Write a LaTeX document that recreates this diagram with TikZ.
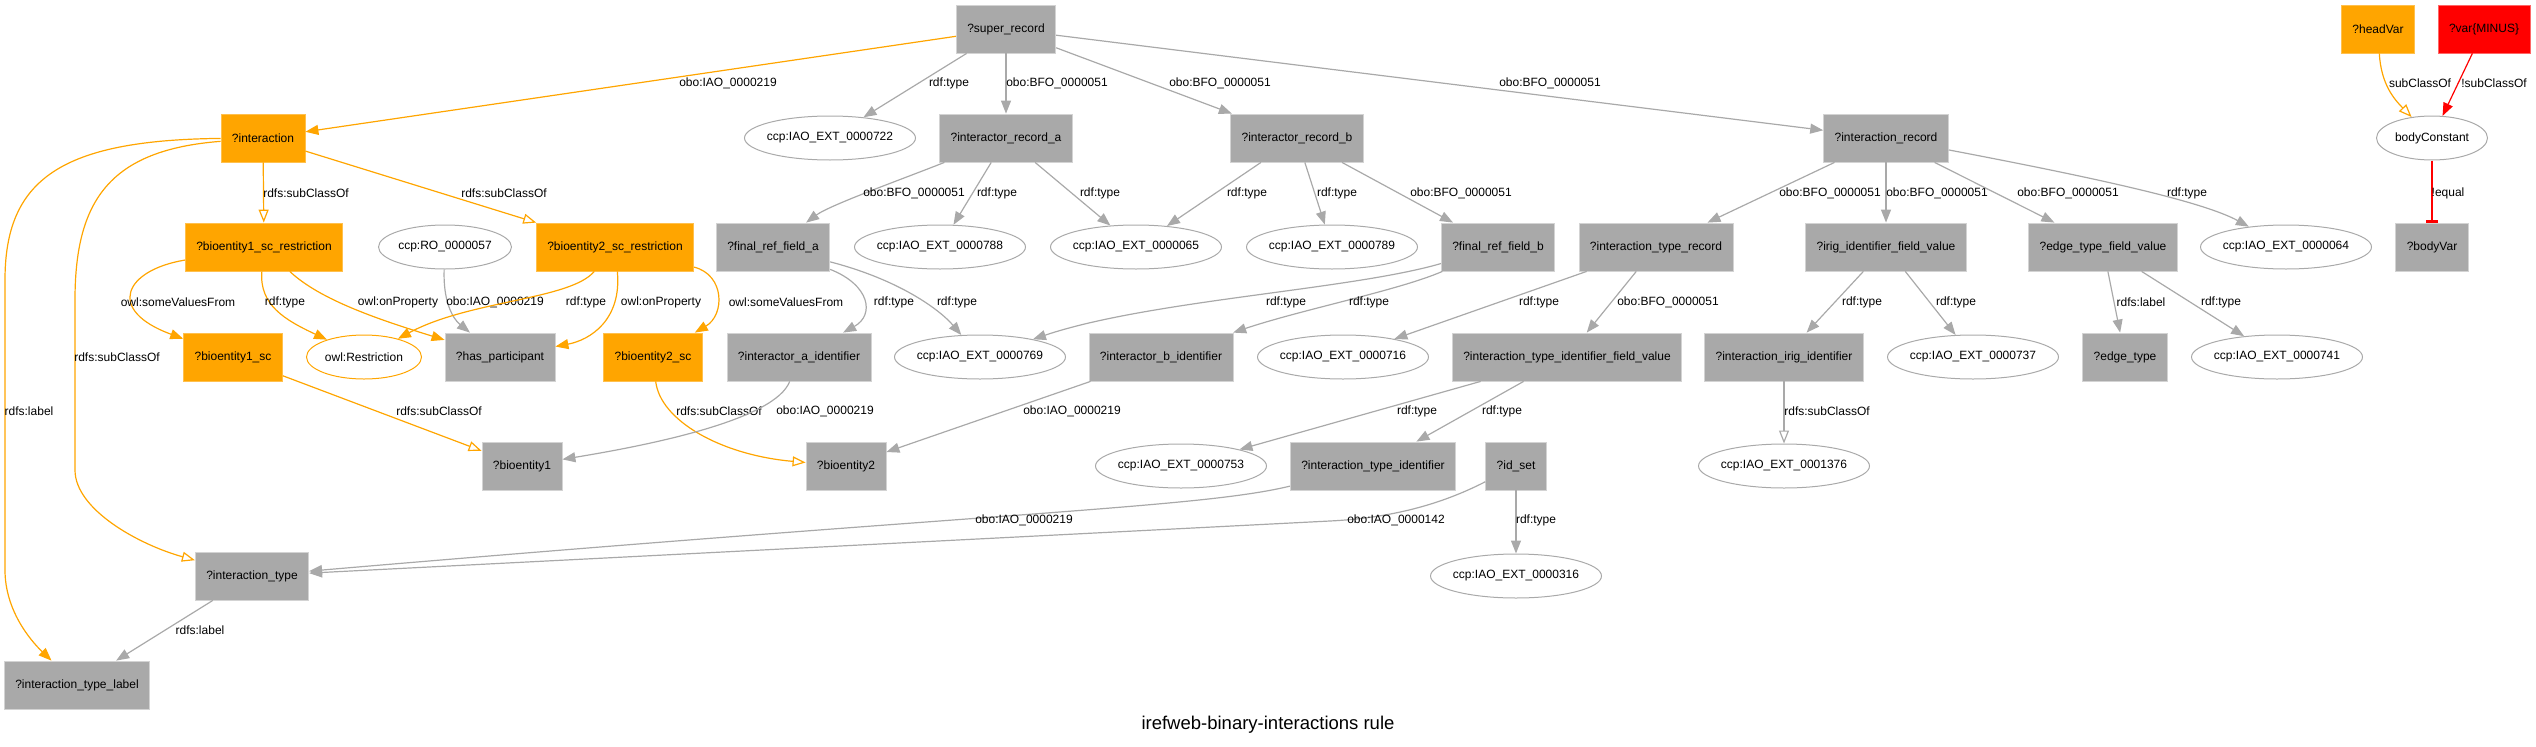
\documentclass[tikz,border=0pt]{standalone}
\usepackage{fontspec}
\setmainfont{Liberation Sans}
\usepackage{tikz}
\usetikzlibrary{shapes.geometric,arrows.meta}
\definecolor{nodegray}{HTML}{A9A9A9}
\definecolor{rimgray}{HTML}{D3D3D3}
\definecolor{edgegray}{HTML}{A9A9A9}
\definecolor{rdforange}{HTML}{FFA500}
\definecolor{rimorange}{HTML}{FFC04D}

\begin{document}
\begin{tikzpicture}
[x=1pt, y=-1pt,
every node/.style={font=\fontsize{12}{14}\selectfont},
gbox/.style={rectangle, fill=nodegray, draw=rimgray, line width=0.8pt, minimum height=48pt, inner xsep=11pt},
obox/.style={gbox, fill=rdforange, draw=rimorange},
rbox/.style={gbox, fill=red, draw=red!60!white},
gell/.style={ellipse, draw=edgegray, line width=1pt, minimum height=44pt, minimum width=#1, inner xsep=-4pt, inner ysep=0pt},
gell/.default=171pt,
oell/.style={gell=#1, draw=rdforange},
elabel/.style={inner sep=0pt},
gedge/.style={draw=edgegray, line width=1.2pt, -{Triangle[length=13pt, width=10pt]}},
gsub/.style={gedge, -{Triangle[open, length=13pt, width=10pt]}},
oedge/.style={gedge, draw=rdforange},
osub/.style={gsub, draw=rdforange},
redge/.style={gedge, draw=red},
rtee/.style={draw=red, line width=1.2pt, -{Bar[width=12pt, line width=3pt]}}]

\useasboundingbox (0, 0) rectangle (2536, 747);

\node (sr) at (1006, 29) [gbox] {?super\_record};
\node (hv) at (2378, 29) [obox] {?headVar};
\node (vm) at (2484, 29) [rbox] {?var\{MINUS\}};
\node (ia) at (263, 138) [obox] {?interaction};
\node (e722) at (830, 138) [gell] {ccp:IAO\_EXT\_0000722};
\node (ira) at (1006, 138) [gbox] {?interactor\_record\_a};
\node (irb) at (1297, 138) [gbox] {?interactor\_record\_b};
\node (irec) at (1886, 138) [gbox] {?interaction\_record};
\node (bc) at (2432, 138) [gell=111pt] {bodyConstant};
\node (b1r) at (264, 247) [obox] {?bioentity1\_sc\_restriction};
\node (ro57) at (445, 247) [gell=133pt] {ccp:RO\_0000057};
\node (b2r) at (615, 247) [obox] {?bioentity2\_sc\_restriction};
\node (frfa) at (773, 247) [gbox] {?final\_ref\_field\_a};
\node (e788) at (940, 247) [gell] {ccp:IAO\_EXT\_0000788};
\node (e065) at (1136, 247) [gell] {ccp:IAO\_EXT\_0000065};
\node (e789) at (1332, 247) [gell] {ccp:IAO\_EXT\_0000789};
\node (frfb) at (1498, 247) [gbox] {?final\_ref\_field\_b};
\node (itr) at (1656, 247) [gbox] {?interaction\_type\_record};
\node (igfv) at (1886, 247) [gbox] {?irig\_identifier\_field\_value};
\node (etfv) at (2103, 247) [gbox] {?edge\_type\_field\_value};
\node (e064) at (2286, 247) [gell] {ccp:IAO\_EXT\_0000064};
\node (bv) at (2432, 247) [gbox] {?bodyVar};
\node (b1sc) at (233, 357) [obox] {?bioentity1\_sc};
\node (ores) at (364, 357) [oell=115pt] {owl:Restriction};
\node (hp) at (500, 357) [gbox] {?has\_participant};
\node (b2sc) at (653, 357) [obox] {?bioentity2\_sc};
\node (iaid) at (799, 357) [gbox] {?interactor\_a\_identifier};
\node (e769) at (980, 357) [gell] {ccp:IAO\_EXT\_0000769};
\node (ibid) at (1161, 357) [gbox] {?interactor\_b\_identifier};
\node (e716) at (1343, 357) [gell] {ccp:IAO\_EXT\_0000716};
\node (itifv) at (1567, 357) [gbox] {?interaction\_type\_identifier\_field\_value};
\node (iii) at (1784, 357) [gbox] {?interaction\_irig\_identifier};
\node (e737) at (1973, 357) [gell] {ccp:IAO\_EXT\_0000737};
\node (et) at (2125, 357) [gbox] {?edge\_type};
\node (e741) at (2277, 357) [gell] {ccp:IAO\_EXT\_0000741};
\node (b1) at (522, 466) [gbox] {?bioentity1};
\node (b2) at (846, 466) [gbox] {?bioentity2};
\node (e753) at (1181, 466) [gell] {ccp:IAO\_EXT\_0000753};
\node (iti) at (1373, 466) [gbox] {?interaction\_type\_identifier};
\node (ids) at (1516, 466) [gbox] {?id\_set};
\node (e1376) at (1784, 466) [gell] {ccp:IAO\_EXT\_0001376};
\node (it) at (252, 576) [gbox] {?interaction\_type};
\node (e316) at (1516, 576) [gell] {ccp:IAO\_EXT\_0000316};
\node (itl) at (77, 685) [gbox] {?interaction\_type\_label};
\node (title) at (1268, 725) [font=\fontsize{18.5}{22}\selectfont] {irefweb-binary-interactions rule};

\draw [oedge] (sr) -- (ia) node [elabel] at (728, 83) {obo:IAO\_0000219};
\draw [gedge] (sr) -- (e722) node [elabel] at (949, 83) {rdf:type};
\draw [gedge] (sr) -- (ira) node [elabel] at (1057, 83) {obo:BFO\_0000051};
\draw [gedge] (sr) -- (irb) node [elabel] at (1220, 83) {obo:BFO\_0000051};
\draw [gedge] (sr) -- (irec) node [elabel] at (1550, 83) {obo:BFO\_0000051};
\draw [osub] (hv) .. controls (2381, 85) and (2395, 100) .. (bc) node [elabel] at (2420, 83) {subClassOf};
\draw [redge] (vm) -- (bc) node [elabel] at (2494, 83) {!subClassOf};
\draw [osub] (ia) -- (b1r) node [elabel] at (306, 193) {rdfs:subClassOf};
\draw [osub] (ia) -- (b2r) node [elabel] at (504, 193) {rdfs:subClassOf};
\draw [gedge] (ira) .. controls (900, 180) and (830, 205) .. (frfa) node [elabel] at (914, 193) {obo:BFO\_0000051};
\draw [gedge] (ira) -- (e788) node [elabel] at (997, 193) {rdf:type};
\draw [gedge] (ira) -- (e065) node [elabel] at (1100, 193) {rdf:type};
\draw [gedge] (irb) -- (e065) node [elabel] at (1247, 193) {rdf:type};
\draw [gedge] (irb) -- (e789) node [elabel] at (1337, 193) {rdf:type};
\draw [gedge] (irb) -- (frfb) node [elabel] at (1461, 193) {obo:BFO\_0000051};
\draw [gedge] (irec) -- (itr) node [elabel] at (1830, 193) {obo:BFO\_0000051};
\draw [gedge] (irec) -- (igfv) node [elabel] at (1937, 193) {obo:BFO\_0000051};
\draw [gedge] (irec) -- (etfv) node [elabel] at (2068, 193) {obo:BFO\_0000051};
\draw [gedge] (irec) .. controls (2080, 175) and (2200, 200) .. (e064) node [elabel] at (2187, 193) {rdf:type};
\draw [rtee] (bc) -- (bv) node [elabel] at (2448, 193) {!equal};
\draw [oedge] (b1r) .. controls (125, 270) and (105, 310) .. (b1sc) node [elabel] at (178, 302) {owl:someValuesFrom};
\draw [oedge] (b1r) .. controls (259, 305) and (285, 320) .. (ores) node [elabel] at (285, 302) {rdf:type};
\draw [oedge] (b1r) .. controls (320, 300) and (380, 320) .. (hp) node [elabel] at (398, 302) {owl:onProperty};
\draw [gedge] (ro57) .. controls (443, 300) and (452, 318) .. (hp) node [elabel] at (495, 302) {obo:IAO\_0000219};
\draw [oedge] (b2r) .. controls (570, 300) and (470, 300) .. (ores) node [elabel] at (586, 302) {rdf:type};
\draw [oedge] (b2r) .. controls (622, 320) and (590, 340) .. (hp) node [elabel] at (661, 302) {owl:onProperty};
\draw [oedge] (b2r) .. controls (725, 275) and (725, 315) .. (b2sc) node [elabel] at (786, 302) {owl:someValuesFrom};
\draw [gedge] (frfa) .. controls (870, 285) and (875, 315) .. (iaid) node [elabel] at (894, 302) {rdf:type};
\draw [gedge] (frfa) .. controls (900, 280) and (940, 310) .. (e769) node [elabel] at (957, 302) {rdf:type};
\draw [gedge] (frfb) .. controls (1350, 290) and (1150, 300) .. (e769) node [elabel] at (1286, 302) {rdf:type};
\draw [gedge] (frfb) .. controls (1400, 290) and (1300, 310) .. (ibid) node [elabel] at (1369, 302) {rdf:type};
\draw [gedge] (itr) -- (e716) node [elabel] at (1539, 302) {rdf:type};
\draw [gedge] (itr) -- (itifv) node [elabel] at (1668, 302) {obo:BFO\_0000051};
\draw [gedge] (igfv) -- (iii) node [elabel] at (1862, 302) {rdf:type};
\draw [gedge] (igfv) -- (e737) node [elabel] at (1956, 302) {rdf:type};
\draw [gedge] (etfv) -- (et) node [elabel] at (2141, 302) {rdfs:label};
\draw [gedge] (etfv) -- (e741) node [elabel] at (2221, 302) {rdf:type};
\draw [osub] (ia) .. controls (110, 150) and (75, 200) .. (75, 300) -- (75, 470) .. controls (75, 510) and (140, 545) .. (it) node [elabel] at (117, 357) {rdfs:subClassOf};
\draw [oedge] (ia) .. controls (60, 140) and (5, 180) .. (5, 280) -- (5, 570) .. controls (5, 610) and (30, 640) .. (itl) node [elabel] at (29, 411) {rdfs:label};
\draw [osub] (b1sc) -- (b1) node [elabel] at (439, 411) {rdfs:subClassOf};
\draw [osub] (b2sc) .. controls (660, 420) and (720, 455) .. (b2) node [elabel] at (719, 411) {rdfs:subClassOf};
\draw [gedge] (iaid) .. controls (775, 420) and (650, 445) .. (b1) node [elabel] at (825, 411) {obo:IAO\_0000219};
\draw [gedge] (ibid) -- (b2) node [elabel] at (1072, 411) {obo:IAO\_0000219};
\draw [gedge] (itifv) -- (e753) node [elabel] at (1417, 411) {rdf:type};
\draw [gedge] (itifv) -- (iti) node [elabel] at (1502, 411) {rdf:type};
\draw [gsub] (iii) -- (e1376) node [elabel] at (1827, 411) {rdfs:subClassOf};
\draw [gedge] (iti) .. controls (1200, 508) and (1000, 512) .. (it) node [elabel] at (1024, 520) {obo:IAO\_0000219};
\draw [gedge] (ids) .. controls (1440, 505) and (1390, 518) .. (1330, 521) -- (it) node [elabel] at (1396, 520) {obo:IAO\_0000142};
\draw [gedge] (ids) -- (e316) node [elabel] at (1536, 520) {rdf:type};
\draw [gedge] (it) -- (itl) node [elabel] at (200, 630) {rdfs:label};
\end{tikzpicture}
\end{document}
